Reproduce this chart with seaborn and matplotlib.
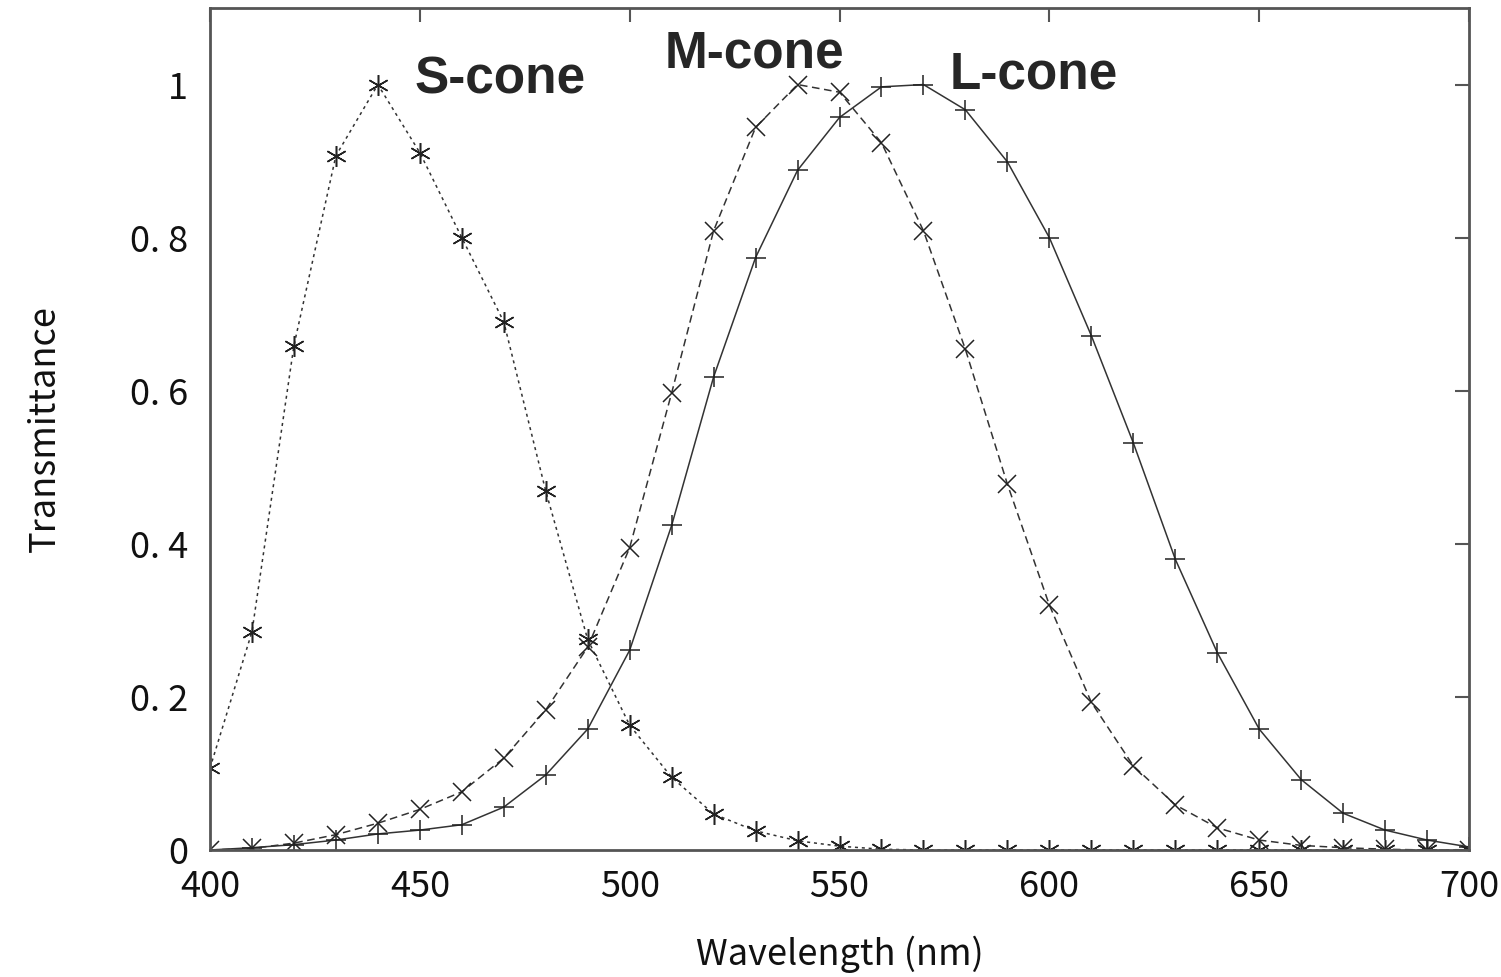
import numpy as np
import pandas as pd
import matplotlib
matplotlib.use("Agg")
import matplotlib.pyplot as plt
import seaborn as sns

sns.set_style("white")
plt.rcParams["font.family"] = ["Noto Sans CJK JP", "DejaVu Sans"]

# === data ===
wavelength = [400, 410, 420, 430, 440, 450, 460, 470, 480, 490, 500,
              510, 520, 530, 540, 550, 560, 570, 580, 590, 600,
              610, 620, 630, 640, 650, 660, 670, 680, 690, 700]

s_cone = [0.107, 0.285, 0.659, 0.907, 1.0, 0.911, 0.80, 0.69, 0.469, 0.275, 0.163,
          0.095, 0.047, 0.025, 0.012, 0.005, 0.001, 0.0, 0.0, 0.0, 0.0,
          0.0, 0.0, 0.0, 0.0, 0.0, 0.0, 0.0, 0.0, 0.0, 0.0]

m_cone = [0.0, 0.002, 0.009, 0.02, 0.035, 0.053, 0.076, 0.12, 0.183, 0.265, 0.395,
          0.597, 0.809, 0.944, 1.0, 0.99, 0.924, 0.809, 0.654, 0.478, 0.32,
          0.193, 0.11, 0.059, 0.029, 0.013, 0.006, 0.003, 0.001, 0.0, 0.0]

l_cone = [0.0, 0.003, 0.007, 0.013, 0.021, 0.026, 0.033, 0.056, 0.098, 0.158, 0.261,
          0.424, 0.618, 0.774, 0.888, 0.957, 0.997, 1.0, 0.967, 0.899, 0.80,
          0.672, 0.532, 0.38, 0.258, 0.158, 0.092, 0.048, 0.026, 0.013, 0.004]

cone_names = ["S-cone", "M-cone", "L-cone"]
y_ticks = [0, 0.2, 0.4, 0.6, 0.8, 1.0]
y_tick_labels = ["0", "0. 2", "0. 4", "0. 6", "0. 8", "1"]
x_ticks = [400, 450, 500, 550, 600, 650, 700]

df = pd.DataFrame({
    "wavelength": wavelength * 3,
    "value": s_cone + m_cone + l_cone,
    "cone": np.repeat(cone_names, len(wavelength)),
})

fig = plt.figure(figsize=(15.01, 9.77), dpi=100)
ax = fig.add_axes([0.1399, 0.13, 0.8388, 0.8618])

line_color = "#333333"
styles = {
    "S-cone": dict(linestyle=(0, (2, 2.5)), marker=(6, 2, 0), markersize=15),
    "M-cone": dict(linestyle=(0, (5, 3)), marker="x", markersize=13),
    "L-cone": dict(linestyle="-", marker="+", markersize=15),
}
for name in cone_names:
    sub = df[df["cone"] == name]
    sns.lineplot(data=sub, x="wavelength", y="value", ax=ax, color=line_color,
                 linewidth=1.1, markeredgewidth=1.1, markeredgecolor="#222222",
                 **styles[name])

ax.set_xlim(400, 700)
ax.set_ylim(0, 1.1)
ax.set_xticks(x_ticks)
ax.set_yticks(y_ticks)
ax.set_yticklabels(y_tick_labels)
ax.tick_params(direction="in", top=True, right=True, length=10, width=1.5,
               color="#555555", labelsize=26, labelcolor="#111111")
ax.tick_params(axis="x", pad=14)
ax.tick_params(axis="y", pad=16)

for sp in ax.spines.values():
    sp.set_color("#555555")
    sp.set_linewidth(2)

ax.set_xlabel("Wavelength (nm)", fontsize=26, labelpad=22, color="#111111")
ax.set_ylabel("Transmittance", fontsize=26, labelpad=48, color="#111111")

label_font = ["Liberation Sans", "DejaVu Sans"]
ax.text(448.8, 1.006, "S-cone", fontsize=37, fontweight="bold", family=label_font, va="center")
ax.text(508.4, 1.04, "M-cone", fontsize=37, fontweight="bold", family=label_font, va="center")
ax.text(576.3, 1.012, "L-cone", fontsize=37, fontweight="bold", family=label_font, va="center")

fig.savefig("out.png", dpi=100)
